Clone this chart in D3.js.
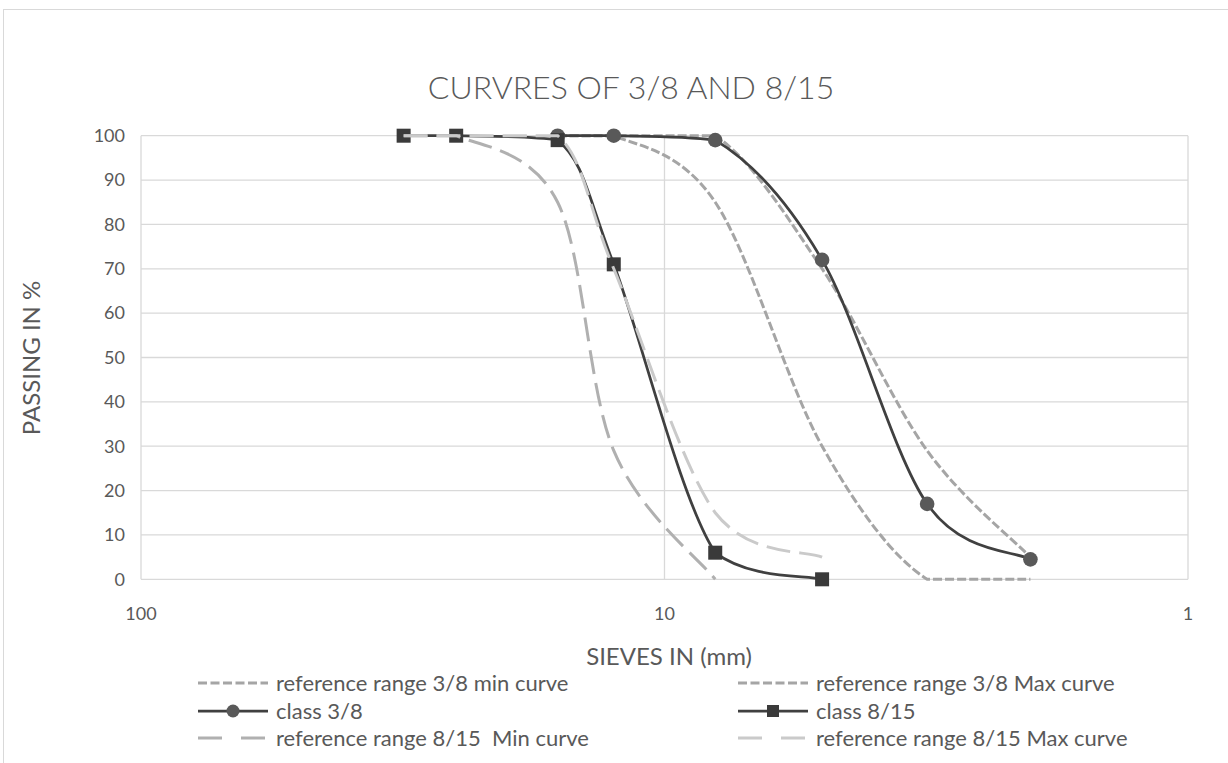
<!DOCTYPE html>
<html>
<head>
<meta charset="utf-8">
<script src="https://cdn.jsdelivr.net/npm/d3@7"></script>
<style>
    body { margin: 0; background: #fff; }
    svg text { font-family: Lato, "Open Sans", sans-serif; fill: #595959; }
</style>
</head>
<body>
<div id="chart"></div>
<script>
// sieve sizes (mm) and passing percentages
const sieves38 = [16, 12.5, 8, 5, 3.15, 2];
const class38 = [100, 100, 99, 72, 17, 4.5];
const min38 = [100, 100, 85, 30, 0, 0];
const max38 = [100, 100, 100, 70, 29, 5];

const sieves815 = [31.5, 25, 16, 12.5, 8, 5];
const class815 = [100, 100, 99, 71, 6, 0];
const min815 = [100, 100, 85, 29, 0, null];
const max815 = [100, 100, 100, 70, 15, 5];

const xTicks = [100, 10, 1];
const yTicks = [0, 10, 20, 30, 40, 50, 60, 70, 80, 90, 100];

const series = [
    {name: "reference range 3/8 min curve", x: sieves38, y: min38, color: "#a5a5a5", width: 3, dash: "9,3", legendDash: "9,3.5"},
    {name: "reference range 3/8 Max curve", x: sieves38, y: max38, color: "#a5a5a5", width: 3, dash: "9,3", legendDash: "9,3.5"},
    {name: "class 3/8", x: sieves38, y: class38, color: "#404040", width: 2.75, marker: "circle", markerColor: "#595959"},
    {name: "class 8/15", x: sieves815, y: class815, color: "#404040", width: 2.75, marker: "square", markerColor: "#3a3a3a"},
    {name: "reference range 8/15  Min curve", x: sieves815, y: min815, color: "#b0b0b0", width: 3, dash: "24,9", legendDash: "24,19"},
    {name: "reference range 8/15 Max curve", x: sieves815, y: max815, color: "#cacaca", width: 3, dash: "24,9", legendDash: "24,19"}
];

const W = 1228, H = 763;
const plot = {left: 141, right: 1188, top: 135.7, bottom: 579.3};

// smoothed line like the spreadsheet one: cardinal tangents,
// control points kept inside the y range of their segment so plateaus stay flat
function SmoothCurve(context) { this._context = context; }
SmoothCurve.prototype = {
    areaStart() {}, areaEnd() {},
    lineStart() { this._pts = []; },
    point(px, py) { this._pts.push([+px, +py]); },
    lineEnd() {
        const p = this._pts, ctx = this._context, n = p.length;
        if (!n) return;
        ctx.moveTo(p[0][0], p[0][1]);
        for (let i = 0; i < n - 1; i++) {
            const p0 = p[i - 1] || p[i], p1 = p[i], p2 = p[i + 1], p3 = p[i + 2] || p[i + 1];
            const lo = Math.min(p1[1], p2[1]), hi = Math.max(p1[1], p2[1]);
            const c1x = p1[0] + (p2[0] - p0[0]) / 6;
            const c1y = Math.max(lo, Math.min(hi, p1[1] + (p2[1] - p0[1]) / 6));
            const c2x = p2[0] - (p3[0] - p1[0]) / 6;
            const c2y = Math.max(lo, Math.min(hi, p2[1] - (p3[1] - p1[1]) / 6));
            ctx.bezierCurveTo(c1x, c1y, c2x, c2y, p2[0], p2[1]);
        }
    }
};
const smoothCurve = context => new SmoothCurve(context);

const svg = d3.select("#chart").append("svg")
    .attr("width", W)
    .attr("height", H);

// chart area border
svg.append("rect")
    .attr("x", 3.5).attr("y", 9.5)
    .attr("width", W).attr("height", H)
    .attr("fill", "none")
    .attr("stroke", "#d9d9d9");

const x = d3.scaleLog().domain([100, 1]).range([plot.left, plot.right]);
const y = d3.scaleLinear().domain([0, 100]).range([plot.bottom, plot.top]);

// gridlines
svg.append("g").selectAll("line")
    .data(yTicks)
    .enter().append("line")
    .attr("x1", plot.left).attr("x2", plot.right)
    .attr("y1", d => y(d)).attr("y2", d => y(d))
    .attr("stroke", "#d9d9d9")
    .attr("stroke-width", 1.3);

svg.append("g").selectAll("line")
    .data(xTicks)
    .enter().append("line")
    .attr("x1", d => x(d)).attr("x2", d => x(d))
    .attr("y1", plot.top).attr("y2", plot.bottom)
    .attr("stroke", "#d9d9d9")
    .attr("stroke-width", 1.3);

// tick labels
svg.append("g").selectAll("text")
    .data(yTicks)
    .enter().append("text")
    .attr("x", 125)
    .attr("y", d => y(d))
    .attr("dy", "0.35em")
    .attr("text-anchor", "end")
    .style("font-size", "18px")
    .text(d => d);

svg.append("g").selectAll("text")
    .data(xTicks)
    .enter().append("text")
    .attr("x", d => x(d))
    .attr("y", 614)
    .attr("dy", "0.35em")
    .attr("text-anchor", "middle")
    .style("font-size", "18px")
    .text(d => d);

// titles
svg.append("text")
    .attr("x", 631).attr("y", 88)
    .attr("dy", "0.35em")
    .attr("text-anchor", "middle")
    .style("font-size", "32px")
    .style("font-weight", 300)
    .text("CURVRES OF 3/8 AND 8/15");

svg.append("text")
    .attr("x", 669).attr("y", 657)
    .attr("dy", "0.35em")
    .attr("text-anchor", "middle")
    .style("font-size", "24px")
    .text("SIEVES IN (mm)");

svg.append("text")
    .attr("transform", "translate(32, 358) rotate(-90)")
    .attr("dy", "0.35em")
    .attr("text-anchor", "middle")
    .style("font-size", "24px")
    .text("PASSING IN %");

// series
const line = d3.line()
    .defined(d => d.v !== null)
    .x(d => x(d.s))
    .y(d => y(d.v))
    .curve(smoothCurve);

series.forEach(sr => {
    const pts = sr.x.map((s, i) => ({s: s, v: sr.y[i]}));
    svg.append("path")
        .datum(pts)
        .attr("d", line)
        .attr("fill", "none")
        .attr("stroke", sr.color)
        .attr("stroke-width", sr.width)
        .attr("stroke-dasharray", sr.dash || null);

    const good = pts.filter(d => d.v !== null);
    if (sr.marker === "circle") {
        svg.append("g").selectAll("circle")
            .data(good)
            .enter().append("circle")
            .attr("cx", d => x(d.s))
            .attr("cy", d => y(d.v))
            .attr("r", 7.3)
            .attr("fill", sr.markerColor);
    } else if (sr.marker === "square") {
        svg.append("g").selectAll("rect")
            .data(good)
            .enter().append("rect")
            .attr("x", d => x(d.s) - 7)
            .attr("y", d => y(d.v) - 7)
            .attr("width", 14)
            .attr("height", 14)
            .attr("fill", sr.markerColor);
    }
});

// legend, two columns and three rows
const legendCols = [198, 738];
const legendRows = [683, 711, 738];

series.forEach((sr, i) => {
    const lx = legendCols[i % 2];
    const ly = legendRows[Math.floor(i / 2)];
    const item = svg.append("g")
        .attr("transform", `translate(${lx}, ${ly})`);

    item.append("line")
        .attr("x1", 0).attr("x2", 70)
        .attr("y1", 0).attr("y2", 0)
        .attr("stroke", sr.color)
        .attr("stroke-width", sr.width)
        .attr("stroke-dasharray", sr.legendDash || null);

    if (sr.marker === "circle") {
        item.append("circle").attr("cx", 35).attr("cy", 0).attr("r", 6.5).attr("fill", sr.markerColor);
    } else if (sr.marker === "square") {
        item.append("rect").attr("x", 29).attr("y", -6).attr("width", 12).attr("height", 12).attr("fill", sr.markerColor);
    }

    item.append("text")
        .attr("x", 78)
        .attr("y", 0)
        .attr("dy", "0.35em")
        .style("font-size", "22px")
        .style("white-space", "pre")
        .text(sr.name);
});
</script>
</body>
</html>
